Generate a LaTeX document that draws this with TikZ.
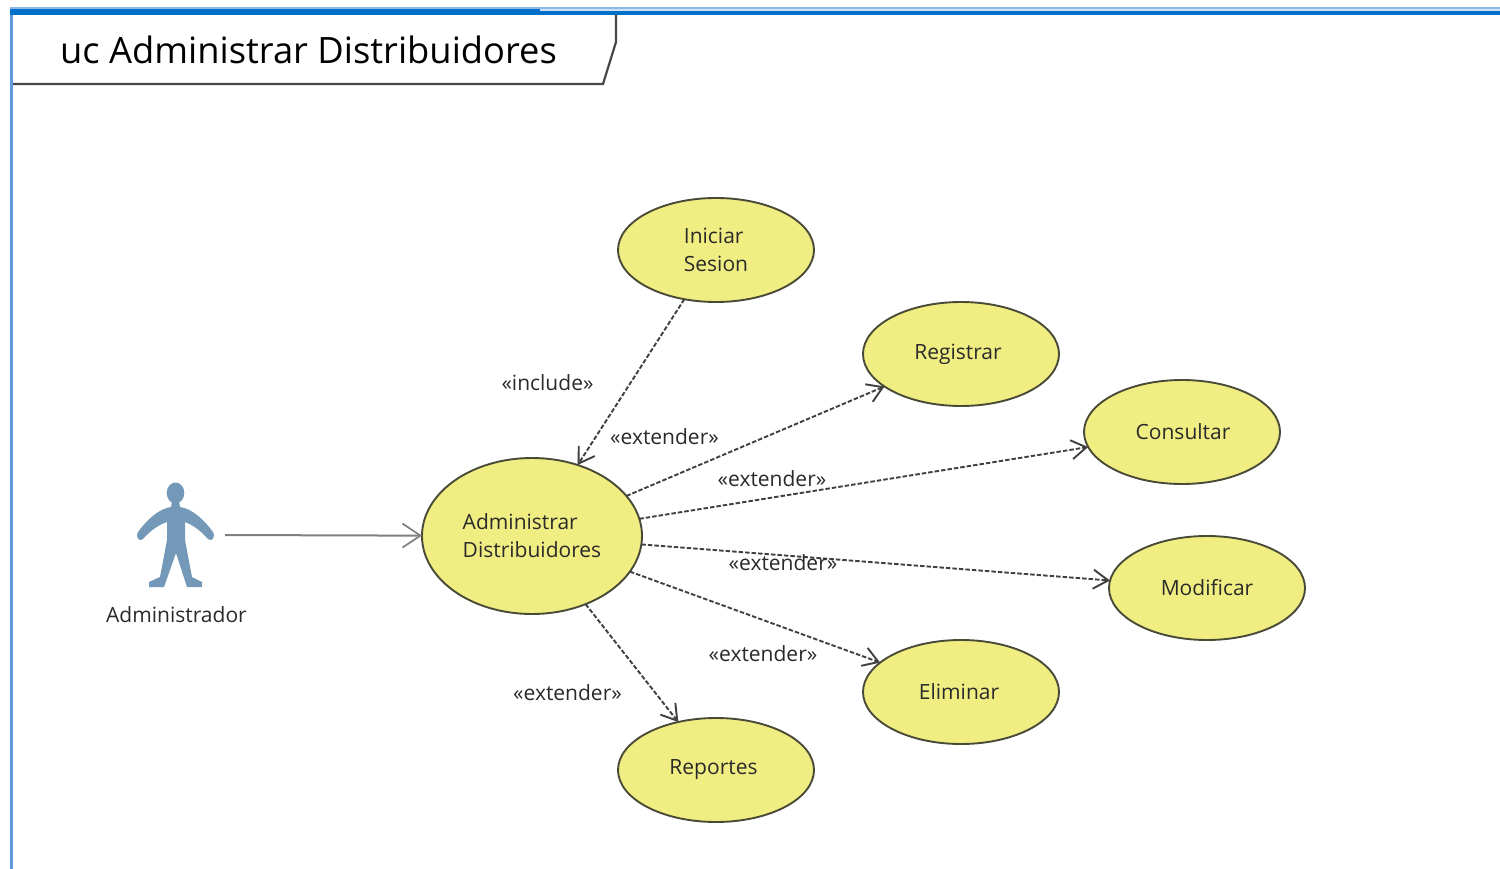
\documentclass[tikz,border=0pt]{standalone}
\usepackage{fontspec}
\setmainfont{Open Sans}
\usetikzlibrary{arrows.meta,shapes.geometric}
\definecolor{fillY}{HTML}{F0EE82}
\definecolor{edgeY}{HTML}{4A4A38}
\definecolor{actorB}{HTML}{7499B8}
\definecolor{frameB}{HTML}{0070C8}
\definecolor{frameL}{HTML}{5C9BDD}
\definecolor{txt}{HTML}{2A2A2A}
\tikzset{
  usecase/.style={ellipse,draw=edgeY,fill=fillY,line width=1.9pt,minimum width=196pt,minimum height=104pt,inner sep=0pt,outer sep=0pt,text=txt,font=\fontsize{21}{28}\selectfont,align=left},
  dep/.style={draw=black!75,line width=1.9pt,dash pattern=on 4.5pt off 2pt,-{Straight Barb[length=15pt,width=19pt,line width=1.9pt]}},
  stereo/.style={inner sep=0pt,text=txt,font=\fontsize{21}{24}\selectfont},
  assoc/.style={draw=black!50,line width=2pt,-{Straight Barb[length=18pt,width=24pt,line width=1.7pt]}}
}
\begin{document}
\begin{tikzpicture}[x=1pt,y=-1pt]
\useasboundingbox (0,0) rectangle (1500,869);
\fill[white] (0,0) rectangle (1500,869);
% frame
\fill[frameL] (10,8) rectangle (13,869);
\fill[frameB] (10,9) rectangle (1500,15);
\fill[frameL!70!white] (10,7) rectangle (1500,9);
\fill[white!70!frameL] (540,9) rectangle (1500,11);
% title tab
\draw[black!72,line width=2.2pt] (13,84) -- (603,84) -- (616,42) -- (616,15);
\node[anchor=west,inner sep=0pt,text=black,font=\fontsize{36.3}{40}\selectfont] (title) at (60,50) {uc Administrar Distribuidores};
% use cases
\node[usecase,minimum width=220pt,minimum height=156pt] (adm) at (532,536) {Administrar\\Distribuidores};
\node[usecase] (ini) at (716,250) {Iniciar\\Sesion};
\node[usecase] (reg) at (961,354) {\kern-6pt Registrar};
\node[usecase] (con) at (1182,432) {\kern2pt Consultar};
\node[usecase] (mod) at (1207,588) {Modificar};
\node[usecase] (eli) at (961,692) {\kern-4pt Eliminar};
\node[usecase] (rep) at (716,770) {\kern-5pt Reportes};
% actor
\node[minimum width=100pt,minimum height=110pt,inner sep=0pt,outer sep=0pt] (actor) at (175,535) {};
\fill[actorB] (175.5,493) ellipse (8.8pt and 10.5pt);
\fill[actorB,line join=round] (172,502) -- (179,502) -- (180,507)
  .. controls (193,509) and (204,520) .. (213,532)
  .. controls (216,538) and (211,542) .. (208,539)
  .. controls (201,531) and (193,525) .. (185,522)
  -- (185,540) -- (192,577) -- (202,582) -- (202,587) -- (187,587) -- (176,553) -- (164,587) -- (149,587) -- (149,582) -- (160,577) -- (167,540) -- (167,522)
  .. controls (158,525) and (150,531) .. (143,539)
  .. controls (140,542) and (135,538) .. (138,532)
  .. controls (147,520) and (158,509) .. (171,507) -- cycle;
\node[inner sep=0pt,text=txt,font=\fontsize{21}{24}\selectfont] (actname) at (176.5,615) {Administrador};
% connectors
\draw[assoc] (actor.east) -- (adm);
\draw[dep] (ini) -- (adm);
\draw[dep] (adm) -- (reg);
\draw[dep] (adm) -- (con);
\draw[dep] (adm) -- (mod);
\draw[dep] (adm) -- (eli);
\draw[dep] (adm) -- (rep);
% labels
\node[stereo] (l1) at (547.5,383) {«include»};
\node[stereo] (l2) at (664.5,437) {«extender»};
\node[stereo] (l3) at (772,479) {«extender»};
\node[stereo] (l4) at (783,563) {«extender»};
\node[stereo] (l5) at (763,654) {«extender»};
\node[stereo] (l6) at (567.5,693) {«extender»};
\end{tikzpicture}
\end{document}
